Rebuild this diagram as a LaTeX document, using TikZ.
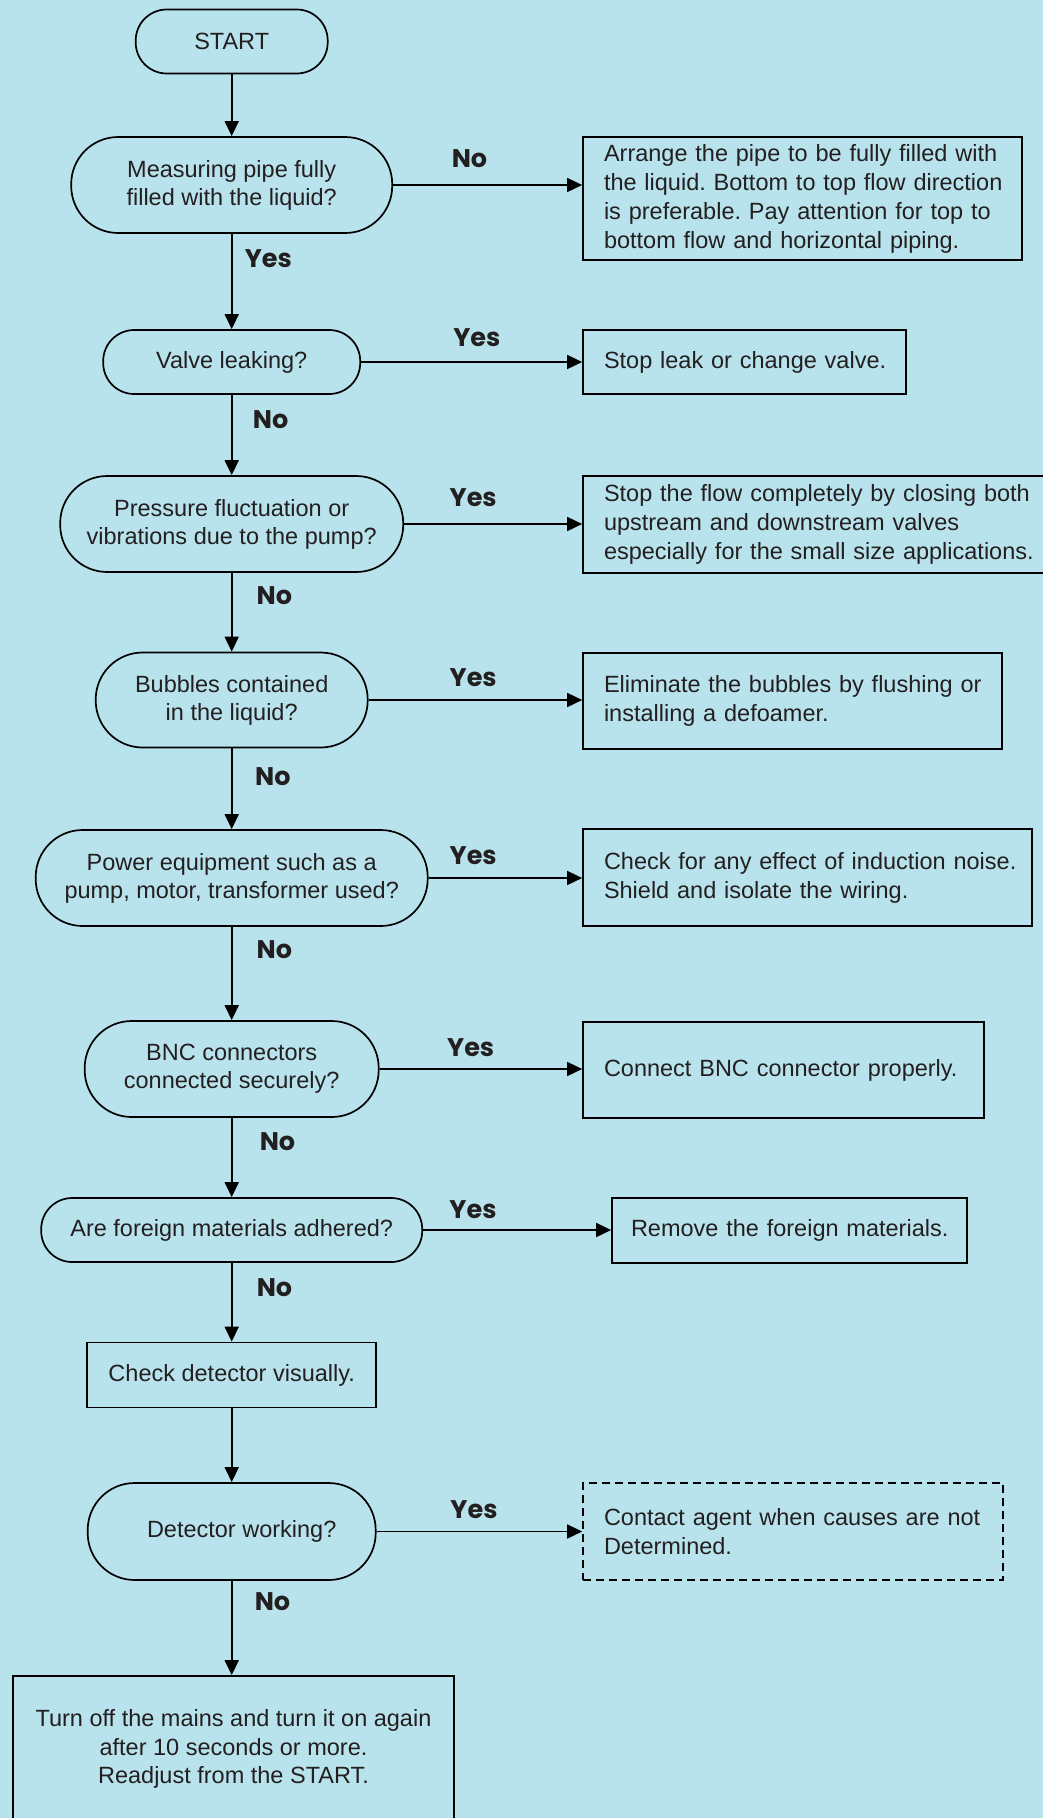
\documentclass[tikz,border=0pt]{standalone}
\usepackage{fontspec}
\setmainfont{Liberation Sans}
\newfontfamily\labelfont{Poppins}
\usetikzlibrary{arrows.meta}
\definecolor{bg}{RGB}{185,227,236}
\definecolor{ink}{RGB}{35,31,32}
\frenchspacing

\begin{document}
\begin{tikzpicture}[x=1pt,y=-1pt,
  every node/.style={text=ink, font=\fontsize{23.5}{28}\selectfont},
  outline/.style={draw=black, line width=1.7pt},
  arrowline/.style={outline, -{Triangle[length=15pt,width=14pt]}},
  term/.style={outline, rectangle, rounded corners=#1, align=center, inner sep=0pt},
  textbox/.style={outline, rectangle, align=left, inner xsep=21pt, inner ysep=0pt,
    font=\fontsize{23.5}{29}\selectfont},
  plainbox/.style={outline, rectangle, align=center, inner sep=0pt,
    font=\fontsize{23.5}{28.5}\selectfont},
  tag/.style={font=\labelfont\bfseries\fontsize{25.5}{28}\selectfont, inner sep=0pt},
]
% page and background
\fill[bg] (0,0) rectangle (1043,1818);
\useasboundingbox (0,0) rectangle (1043,1818);

% main column: terminal and decision shapes
\node[term=31pt, minimum width=192pt, minimum height=64pt] (start) at (231.7,41.5) {START};
\node[term=47pt, minimum width=321pt, minimum height=96pt] (d1) at (231.7,185)
  {Measuring pipe fully\\filled with the liquid?};
\node[term=31pt, minimum width=257pt, minimum height=64pt] (d2) at (231.7,362)
  {Valve leaking?};
\node[term=47pt, minimum width=343pt, minimum height=96pt] (d3) at (231.7,524)
  {Pressure fluctuation or\\vibrations due to the pump?};
\node[term=47pt, minimum width=272pt, minimum height=95pt] (d4) at (231.7,700)
  {Bubbles contained\\in the liquid?};
\node[term=47pt, minimum width=392pt, minimum height=96pt] (d5) at (231.7,878)
  {Power equipment such as a\\pump, motor, transformer used?};
\node[term=47pt, minimum width=294pt, minimum height=96pt] (d6) at (231.7,1069)
  {BNC connectors\\connected securely?};
\node[term=31pt, minimum width=381pt, minimum height=64pt] (d7) at (231.7,1230)
  {Are foreign materials adhered?};
\node[plainbox, minimum width=289pt, minimum height=65pt] (chk) at (231.7,1375)
  {Check detector visually.};
\node[term=47pt, minimum width=288pt, minimum height=97pt] (d8) at (231.7,1531.5)
  {\hspace*{20pt}Detector working?};
\node[plainbox, minimum width=441.6pt, minimum height=146pt] (fin) at (233.5,1749)
  {Turn off the mains and turn it on again\\after 10 seconds or more.\\Readjust from the START.};

% remedy boxes on the right
\node[textbox, text width=397pt, minimum height=123pt] (b1) at (802.5,198.5)
  {\mbox{Arrange the pipe to be fully filled with}\\
   \mbox{the liquid. Bottom to top flow direction}\\
   \mbox{is preferable. Pay attention for top to}\\
   \mbox{bottom flow and horizontal piping.}};
\node[textbox, text width=281pt, minimum height=64pt] (b2) at (744.5,362)
  {\mbox{Stop leak or change valve.}};
\node[textbox, text width=435pt, minimum height=97pt] (b3) at (821.5,524.5)
  {\mbox{Stop the flow completely by closing both}\\
   \mbox{upstream and downstream valves}\\
   \mbox{especially for the small size applications.}};
\node[textbox, text width=377pt, minimum height=96pt] (b4) at (792.5,701)
  {\mbox{Eliminate the bubbles by flushing or}\\
   \mbox{installing a defoamer.}};
\node[textbox, text width=407pt, minimum height=97pt] (b5) at (807.5,877.5)
  {\mbox{Check for any effect of induction noise.}\\
   \mbox{Shield and isolate the wiring.}};
\node[textbox, text width=359pt, minimum height=96pt] (b6) at (783.5,1070)
  {\mbox{Connect BNC connector properly.}};
\node[textbox, inner xsep=19pt, text width=317pt, minimum height=65pt] (b7) at (789.5,1230.5)
  {\mbox{Remove the foreign materials.}};
\node[textbox, dash pattern=on 8pt off 5pt, text width=378pt, minimum height=97pt] (b8) at (793,1531.5)
  {\mbox{Contact agent when causes are not}\\
   \mbox{Determined.}};

% vertical flow
\draw[arrowline] (start.south) -- (d1.north);
\draw[arrowline] (d1.south) -- (d2.north);
\draw[arrowline] (d2.south) -- (d3.north);
\draw[arrowline] (d3.south) -- (d4.north);
\draw[arrowline] (d4.south) -- (d5.north);
\draw[arrowline] (d5.south) -- (d6.north);
\draw[arrowline] (d6.south) -- (d7.north);
\draw[arrowline] (d7.south) -- (chk.north);
\draw[arrowline] (chk.south) -- (d8.north);
\draw[arrowline] (d8.south) -- (d8.south |- fin.north);

% branches to the right
\draw[arrowline] (d1.east) -- (d1.east -| b1.west);
\draw[arrowline] (d2.east) -- (d2.east -| b2.west);
\draw[arrowline] (d3.east) -- (d3.east -| b3.west);
\draw[arrowline] (d4.east) -- (d4.east -| b4.west);
\draw[arrowline] (d5.east) -- (d5.east -| b5.west);
\draw[arrowline] (d6.east) -- (d6.east -| b6.west);
\draw[arrowline] (d7.east) -- (d7.east -| b7.west);
\draw[arrowline] (d8.east) -- (d8.east -| b8.west);

% branch labels
\node[tag] (n1) at (469.5,158.5) {No};
\node[tag] (y1) at (268.3,259) {Yes};
\node[tag] (y2) at (476.9,337.4) {Yes};
\node[tag] (n2) at (270.6,420) {No};
\node[tag] (y3) at (473.2,497.5) {Yes};
\node[tag] (n3) at (274.4,595.8) {No};
\node[tag] (y4) at (473.2,677.5) {Yes};
\node[tag] (n4) at (272.8,777) {No};
\node[tag] (y5) at (473.2,855.5) {Yes};
\node[tag] (n5) at (274.4,949.5) {No};
\node[tag] (y6) at (470.7,1047.5) {Yes};
\node[tag] (n6) at (277.5,1141.8) {No};
\node[tag] (y7) at (473,1210) {Yes};
\node[tag] (n7) at (274.5,1288) {No};
\node[tag] (y8) at (474,1510) {Yes};
\node[tag] (n8) at (272.5,1602) {No};
\end{tikzpicture}
\end{document}
